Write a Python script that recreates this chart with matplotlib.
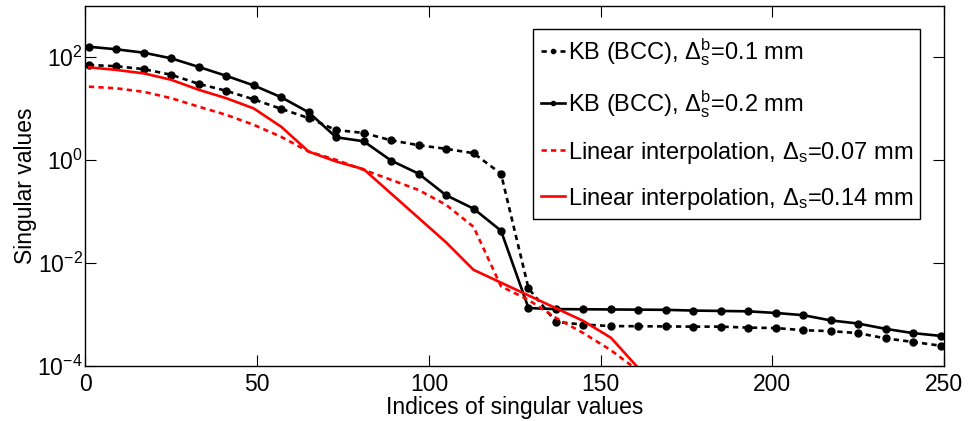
import numpy as np
import matplotlib
matplotlib.use('Agg')
import matplotlib.pyplot as plt

plt.rcParams['font.family'] = ['Liberation Sans', 'DejaVu Sans']
plt.rcParams['mathtext.fontset'] = 'custom'
plt.rcParams['mathtext.rm'] = 'Liberation Sans'
plt.rcParams['mathtext.it'] = 'Liberation Sans'
plt.rcParams['mathtext.bf'] = 'Liberation Sans:bold'

# indices where the KB curves have markers
kb_idx = [1, 9, 17, 25, 33, 41, 49, 57, 65, 73, 81, 89, 97, 105, 113, 121,
          129, 137, 145, 153, 161, 169, 177, 185, 193, 201, 209, 217, 225, 233, 241, 249]

# KB (BCC), delta = 0.1 mm (dotted)
kb_01 = [70, 66, 58, 45, 30, 22, 15, 9.8, 6.5, 3.8, 3.34, 2.4, 1.93, 1.64, 1.35, 0.54,
         3.2e-3, 7.1e-4, 6.3e-4, 5.9e-4, 5.85e-4, 5.8e-4, 5.75e-4, 5.75e-4, 5.5e-4, 5.4e-4,
         4.9e-4, 4.7e-4, 4.3e-4, 3.4e-4, 2.9e-4, 2.45e-4]

# KB (BCC), delta = 0.2 mm (solid)
kb_02 = [158, 141, 121, 94, 64, 43, 28, 16.5, 8.4, 2.75, 2.3, 0.97, 0.54, 0.206, 0.113, 0.042,
         1.32e-3, 1.26e-3, 1.25e-3, 1.24e-3, 1.23e-3, 1.22e-3, 1.18e-3, 1.16e-3, 1.14e-3, 1.06e-3,
         9.6e-4, 7.6e-4, 6.6e-4, 5.2e-4, 4.3e-4, 3.8e-4]

# linear interpolation, delta = 0.07 mm (dotted)
li_007_idx = [1, 9, 17, 25, 33, 41, 49, 57, 65, 73, 81, 89, 97, 105, 113, 121,
              129, 137, 145, 153, 161]
li_007 = [26.5, 24.6, 21, 15.8, 10.8, 7.5, 4.8, 2.8, 1.45, 1.0, 0.64, 0.41, 0.26, 0.134, 0.05,
          3.5e-3, 1.9e-3, 8.5e-4, 4.3e-4, 2.0e-4, 8.0e-5]

# linear interpolation, delta = 0.14 mm (solid)
li_014_idx = [1, 9, 17, 25, 33, 41, 49, 57, 65, 73, 81, 105, 113, 145, 153, 161]
li_014 = [63, 56, 48, 36, 23, 15.8, 10, 4.4, 1.45, 0.93, 0.66, 0.025, 7.3e-3,
          7.4e-4, 3.5e-4, 9.0e-5]

fs = 17
tfs = 16.5

fig = plt.figure(figsize=(9.69, 4.21), dpi=100)
ax = fig.add_axes([0.0882, 0.1313, 0.8860, 0.8556])

lw = 1.9
ax.plot(kb_idx, kb_01, color='black', lw=lw, dashes=(2, 1.6), marker='o', ms=5,
        label=r'KB (BCC), $\Delta_s^b$=0.1 mm')
ax.plot(kb_idx, kb_02, color='black', lw=lw, marker='o', ms=5,
        label=r'KB (BCC), $\Delta_s^b$=0.2 mm')
ax.plot(li_007_idx, li_007, color='red', lw=lw, dashes=(2, 1.6),
        label=r'Linear interpolation, $\Delta_s$=0.07 mm')
ax.plot(li_014_idx, li_014, color='red', lw=lw,
        label=r'Linear interpolation, $\Delta_s$=0.14 mm')

ax.set_yscale('log')
ax.set_xlim(0, 250)
ax.set_ylim(1e-4, 1e3)
ax.set_xticks([0, 50, 100, 150, 200, 250])
ax.set_yticks([1e-4, 1e-2, 1e0, 1e2])
ax.yaxis.set_minor_locator(matplotlib.ticker.NullLocator())
ax.tick_params(direction='in', length=8, width=0.8, top=True, right=True, labelsize=tfs)
ax.tick_params(axis='x', pad=5)
ax.tick_params(axis='y', pad=2)
for s in ax.spines.values():
    s.set_linewidth(1.0)

ax.set_xlabel('Indices of singular values', fontsize=tfs, labelpad=0)
ax.set_ylabel('Singular values', fontsize=tfs, labelpad=0)

leg = ax.legend(loc='upper right', bbox_to_anchor=(0.972, 0.9348), fontsize=fs,
                borderaxespad=0, handlelength=1.05, handletextpad=0.1,
                labelspacing=0.85, borderpad=0.3, fancybox=False,
                edgecolor='black', framealpha=1, markerscale=0.6)
leg.get_frame().set_linewidth(1.0)

fig.savefig('out.png', dpi=100)
